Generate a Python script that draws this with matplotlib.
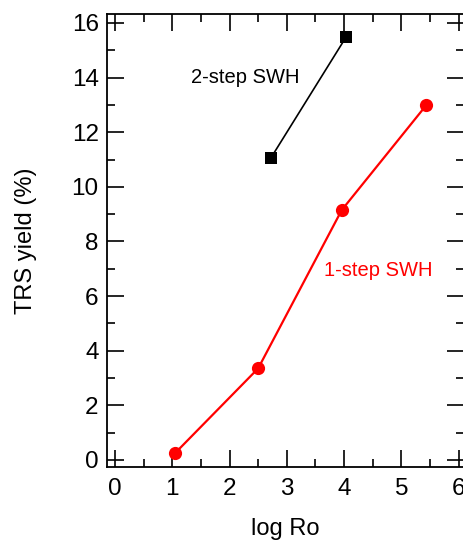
import numpy as np
import matplotlib.pyplot as plt
from matplotlib.ticker import MultipleLocator

plt.rcParams['font.family'] = ['Liberation Sans', 'DejaVu Sans']

# data
one_step_x = [1.05, 2.5, 3.96, 5.44]
one_step_y = [0.25, 3.35, 9.15, 13.0]
two_step_x = [2.72, 4.04]
two_step_y = [11.05, 15.5]

fig = plt.figure(figsize=(4.64, 5.42), dpi=100)
ax = fig.add_axes([0.2306, 0.1384, 0.77, 0.8358])

ax.plot(one_step_x, one_step_y, '-o', color='#ff0000', lw=1.6, ms=9.5, mew=0, zorder=3)
ax.plot(two_step_x, two_step_y, '-s', color='black', lw=1.2, ms=9, mew=0, zorder=3)

ax.text(2.27, 14.0, '2-step SWH', fontsize=14.5, ha='center', va='center', color='black')
ax.text(4.6, 6.95, '1-step SWH', fontsize=14.5, ha='center', va='center', color='#ff0000')

ax.set_xlim(-0.14, 6.1)
ax.set_ylim(-0.26, 16.33)
ax.xaxis.set_major_locator(MultipleLocator(1))
ax.xaxis.set_minor_locator(MultipleLocator(0.5))
ax.yaxis.set_major_locator(MultipleLocator(2))
ax.yaxis.set_minor_locator(MultipleLocator(1))
ax.tick_params(which='both', direction='in', top=True, right=True, width=1.2)
ax.tick_params(which='major', length=12, labelsize=17.5)
ax.tick_params(axis='x', which='major', pad=8)
ax.tick_params(axis='y', which='major', pad=6)
ax.tick_params(which='minor', length=6)
for s in ax.spines.values():
    s.set_linewidth(1.3)

ax.set_xlabel('log Ro', fontsize=17, labelpad=13)
ax.set_ylabel('TRS yield (%)', fontsize=17, labelpad=25)

fig.savefig('out.png', dpi=100)
